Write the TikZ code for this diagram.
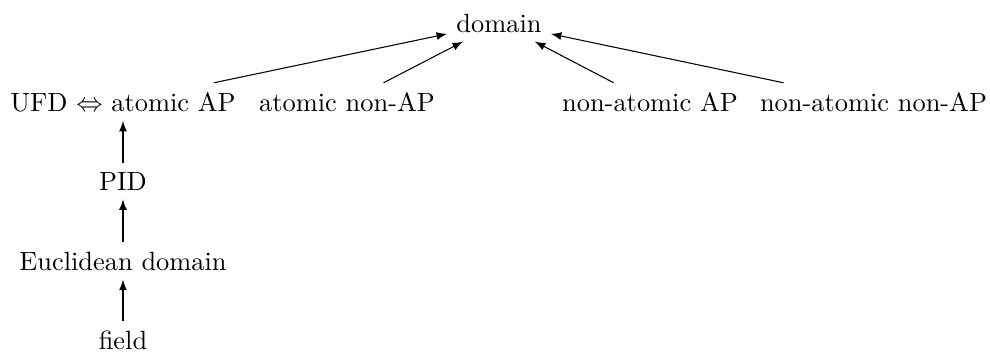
\documentclass[tikz,border=0pt]{standalone}
\begin{document}
\begin{tikzpicture}[x=0.3788pt,y=-0.3788pt,
  lbl/.style={anchor=base,inner sep=3.33pt,font=\normalsize},
  arr/.style={-latex,line width=0.4pt}]
\useasboundingbox (0,0) rectangle (990,352);
\node[lbl] (dom) at (499,32) {domain};
\node[lbl] (ufd) at (123,111) {UFD $\Leftrightarrow$ atomic AP};
\node[lbl] (anap) at (347,111) {atomic non-AP};
\node[lbl] (naap) at (650,111) {non-atomic AP};
\node[lbl] (nanap) at (873.5,111) {non-atomic non-AP};
\node[lbl] (pid) at (123,190) {PID};
\node[lbl] (eucl) at (123,270) {Euclidean domain};
\node[lbl] (field) at (123,349) {field};
\draw[arr] (ufd) -- (dom);
\draw[arr] (anap) -- (dom);
\draw[arr] (naap) -- (dom);
\draw[arr] (nanap) -- (dom);
\draw[arr] (pid) -- (ufd);
\draw[arr] (eucl) -- (pid);
\draw[arr] (field) -- (eucl);
\end{tikzpicture}
\end{document}
